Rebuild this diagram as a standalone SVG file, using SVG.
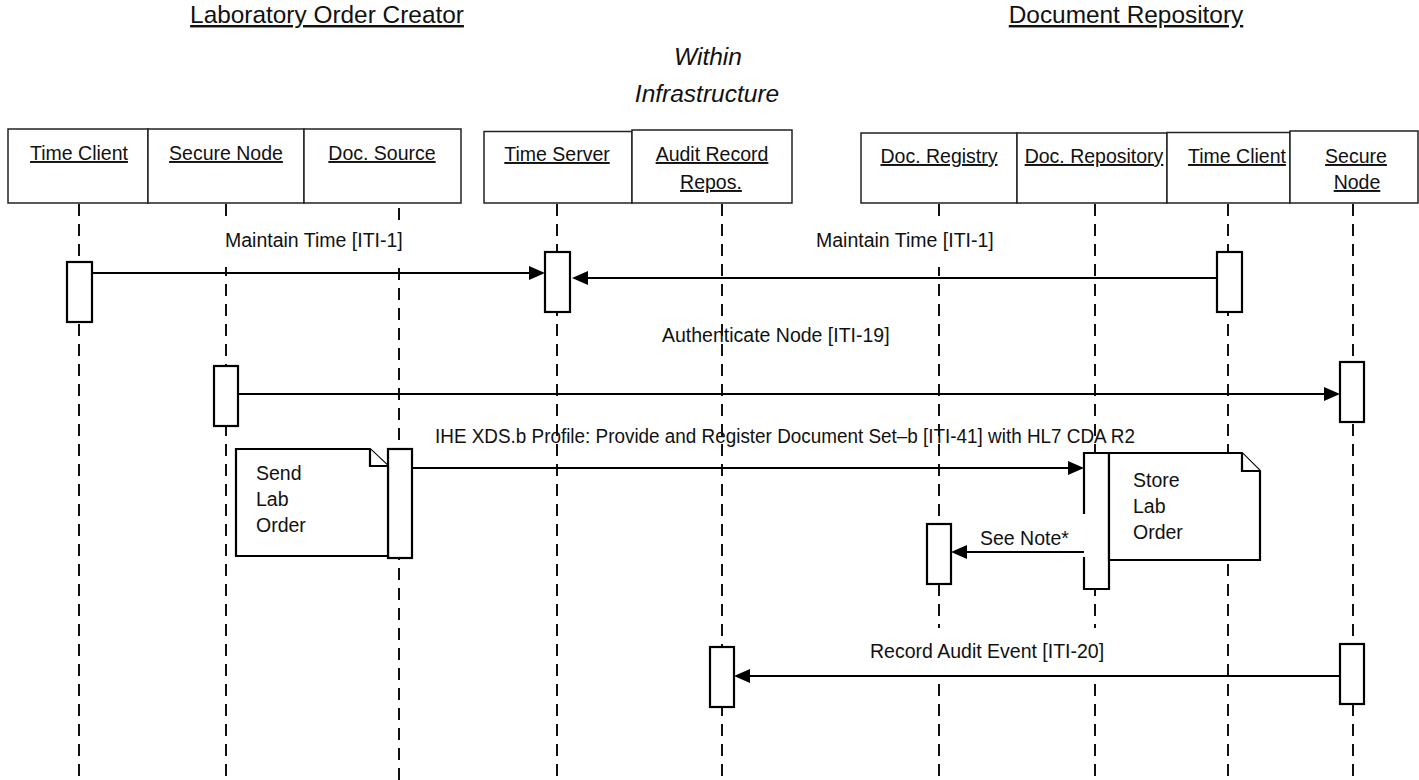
<svg xmlns="http://www.w3.org/2000/svg" width="1419" height="780" viewBox="0 0 1419 780">
<style>
  text { font-family: "Liberation Sans", Arial, sans-serif; fill: #111; }
  .title { font-size: 24.4px; text-decoration: underline; }
  .infra { font-size: 24.5px; font-style: italic; }
  .hdr { fill: #fff; stroke: #222; stroke-width: 1.5; }
  .lbl { font-size: 19.5px; text-decoration: underline; text-anchor: middle; }
  .msg { font-size: 19.5px; }
  .bg { fill: #fff; stroke: none; }
  .life { stroke: #111; stroke-width: 2; stroke-dasharray: 12 8; fill: none; }
  .conn { stroke: #000; stroke-width: 2; fill: none; marker-end: url(#ah); }
  .act { fill: #fff; stroke: #000; stroke-width: 2.2; }
  .note { fill: #fff; stroke: #000; stroke-width: 2.2; stroke-linejoin: miter; }
  .ntxt { font-size: 19.5px; }
</style>
<defs>
  <marker id="ah" markerWidth="16" markerHeight="14" refX="6" refY="7" orient="auto" markerUnits="userSpaceOnUse">
    <path d="M0,0 L16,7 L0,14 z" fill="#000"/>
  </marker>
</defs>
<rect x="0" y="0" width="1419" height="780" fill="#fff"/>

<!-- titles -->
<g id="titles">
  <text class="title" x="327" y="23" text-anchor="middle">Laboratory Order Creator</text>
  <text class="title" x="1126" y="23" text-anchor="middle">Document Repository</text>
  <text class="infra" x="708" y="65" text-anchor="middle">Within</text>
  <text class="infra" x="707" y="102" text-anchor="middle">Infrastructure</text>
</g>

<!-- message labels drawn under lifelines -->
<g id="message-labels-under">
  <text class="msg" x="662" y="342">Authenticate Node [ITI-19]</text>
  <text class="msg" x="435" y="443" textLength="700" lengthAdjust="spacingAndGlyphs">IHE XDS.b Profile: Provide and Register Document Set–b [ITI-41] with HL7 CDA R2</text>
</g>

<!-- lifelines -->
<g id="lifelines">
  <line class="life" x1="79" y1="204" x2="79" y2="780"/>
  <line class="life" x1="226" y1="204" x2="226" y2="780"/>
  <line class="life" x1="399" y1="208" x2="399" y2="780"/>
  <line class="life" x1="557" y1="204" x2="557" y2="780"/>
  <line class="life" x1="722" y1="204" x2="722" y2="780"/>
  <line class="life" x1="939" y1="204" x2="939" y2="780"/>
  <line class="life" x1="1095" y1="204" x2="1095" y2="780"/>
  <line class="life" x1="1228" y1="204" x2="1228" y2="780"/>
  <line class="life" x1="1353" y1="204" x2="1353" y2="780"/>
</g>

<!-- message labels with white boxes over lifelines -->
<g id="message-labels-over">
  <rect class="bg" x="221" y="222" width="188" height="45"/>
  <text class="msg" x="225" y="247">Maintain Time [ITI-1]</text>
  <rect class="bg" x="812" y="222" width="188" height="45"/>
  <text class="msg" x="816" y="247">Maintain Time [ITI-1]</text>
  <text class="msg" x="980" y="545">See Note*</text>
  <rect class="bg" x="846" y="628" width="286" height="48"/>
  <text class="msg" x="870" y="658">Record Audit Event [ITI-20]</text>
</g>

<!-- connectors -->
<g id="connectors">
  <line class="conn" x1="92" y1="273" x2="535" y2="273"/>
  <line class="conn" x1="1217" y1="278" x2="582" y2="278"/>
  <line class="conn" x1="238" y1="394" x2="1330" y2="394"/>
  <line class="conn" x1="412" y1="468" x2="1074" y2="468"/>
  <line class="conn" x1="1084" y1="552" x2="961" y2="552"/>
  <line class="conn" x1="1340" y1="676" x2="744" y2="676"/>
</g>

<!-- activations -->
<g id="activations">
  <rect class="act" x="67" y="262" width="25" height="60"/>
  <rect class="act" x="545" y="252" width="25" height="60"/>
  <rect class="act" x="1217" y="252" width="25" height="60"/>
  <rect class="act" x="214" y="366" width="24" height="60"/>
  <rect class="act" x="1340" y="362" width="24" height="60"/>
  <rect class="act" x="388" y="449" width="24" height="109"/>
  <rect class="act" x="927" y="524" width="24" height="60"/>
  <rect x="1084" y="453" width="25" height="136" fill="#fff"/>
  <path class="note" fill="none" d="M1084,514 L1084,453 L1109,453 L1109,589 L1084,589 L1084,557"/>
  <rect class="act" x="710" y="647" width="24" height="60"/>
  <rect class="act" x="1340" y="644" width="24" height="60"/>
</g>

<!-- notes -->
<g id="note-send">
  <path class="note" d="M388,556 L236,556 L236,449 L370,449 L388,466 Z"/>
  <path class="note" fill="none" d="M370,449 L370,466 L388,466"/>
  <text class="ntxt" x="256" y="480">Send</text>
  <text class="ntxt" x="256" y="506">Lab</text>
  <text class="ntxt" x="256" y="532">Order</text>
</g>
<g id="note-store">
  <path class="note" d="M1109,453 L1242,453 L1260,471 L1260,560 L1109,560 Z"/>
  <path class="note" fill="none" d="M1242,453 L1242,471 L1260,471"/>
  <text class="ntxt" x="1133" y="487">Store</text>
  <text class="ntxt" x="1133" y="513">Lab</text>
  <text class="ntxt" x="1133" y="539">Order</text>
</g>

<!-- header nodes -->
<g id="node-time-client-1">
  <rect class="hdr" x="8" y="129" width="140" height="74"/>
  <text class="lbl" x="79" y="160">Time Client</text>
</g>
<g id="node-secure-node-1">
  <rect class="hdr" x="148" y="129" width="156" height="74"/>
  <text class="lbl" x="226" y="160">Secure Node</text>
</g>
<g id="node-doc-source">
  <rect class="hdr" x="304" y="129" width="157" height="74"/>
  <text class="lbl" x="382" y="160">Doc. Source</text>
</g>
<g id="node-time-server">
  <rect class="hdr" x="484" y="131.5" width="148" height="71.5"/>
  <text class="lbl" x="557" y="161">Time Server</text>
</g>
<g id="node-audit-record">
  <rect class="hdr" x="632" y="130" width="160" height="73"/>
  <text class="lbl" x="712" y="161">Audit Record</text>
  <text class="lbl" x="711" y="189">Repos.</text>
</g>
<g id="node-doc-registry">
  <rect class="hdr" x="861" y="133" width="156" height="70"/>
  <text class="lbl" x="939" y="163">Doc. Registry</text>
</g>
<g id="node-doc-repository">
  <rect class="hdr" x="1017" y="133" width="150" height="70"/>
  <text class="lbl" x="1094" y="163">Doc. Repository</text>
</g>
<g id="node-time-client-2">
  <rect class="hdr" x="1167" y="132.5" width="123" height="70.5"/>
  <text class="lbl" x="1237" y="163">Time Client</text>
</g>
<g id="node-secure-node-2">
  <rect class="hdr" x="1290" y="131" width="128" height="72"/>
  <text class="lbl" x="1356" y="163">Secure</text>
  <text class="lbl" x="1357" y="189">Node</text>
</g>
</svg>
